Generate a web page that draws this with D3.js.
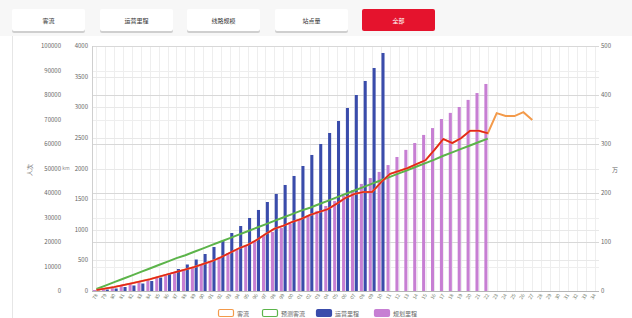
<!DOCTYPE html>
<html>
<head>
<meta charset="utf-8">
<script src="https://cdn.jsdelivr.net/npm/d3@7/dist/d3.min.js"></script>
<style>
  body { margin: 0; background: #fff; font-family: "Noto Sans CJK SC", "Noto Sans", sans-serif; }
</style>
</head>
<body>
<svg id="chart" width="632" height="318"></svg>
<script>
// categories: two digit years
var years = [];
for (var yy = 1978; yy <= 2034; yy++) years.push(String(yy).slice(2));

var buttons = ["客流", "运营里程", "线路规模", "站点量", "全部"];
var legendNames = ["客流", "预测客流", "运营里程", "规划里程"];

// blue bars (inner left axis, 0-4000)
var blueVals = [8, 25, 41, 65, 90, 122, 163, 220, 286, 359, 433, 514, 604, 718, 816, 947,
  1061, 1192, 1323, 1453, 1584, 1731, 1878, 2041, 2221, 2400, 2580, 2776, 2988, 3200, 3429, 3641, 3886];
// purple bars (outer left axis, 0-100000)
var purpleVals = [400, 800, 1400, 2000, 2900, 3700, 4500, 5300, 6300, 7300, 8600, 9800, 11000, 12200,
  13900, 15500, 17100, 18800, 20400, 22400, 24100, 25700, 27400, 29000, 30600, 32700, 34700, 36700,
  38800, 41200, 43700, 46100, 48600, 51400, 54700, 57600, 60400, 63700, 66500, 70200, 72700, 75100,
  78000, 80800, 84500];
// orange line (right axis, 0-500)
var orangeVals = [2, 5, 8, 12, 16, 20, 24, 29, 34, 39, 44, 49, 55, 61, 69, 78, 87, 94, 104, 116, 127,
  133, 141, 147, 155, 161, 167, 178, 190, 198, 202, 202, 222, 239, 245, 251, 259, 267, 288, 310, 302,
  312, 327, 327, 322, 363, 357, 357, 365, 349];
// green line (right axis)
var greenVals = [4, 11, 18, 25, 32, 39, 46, 53, 60, 67, 73, 80, 87, 94, 101, 108, 115, 122, 129, 136,
  143, 150, 157, 164, 170, 177, 184, 191, 198, 205, 212, 219, 226, 233, 240, 247, 254, 261, 268, 276,
  283, 290, 297, 304, 311];

var outerTicks = [0, 10000, 20000, 30000, 40000, 50000, 60000, 70000, 80000, 90000, 100000];
var innerTicks = [0, 500, 1000, 1500, 2000, 2500, 3000, 3500, 4000];
var rightTicks = [0, 100, 200, 300, 400, 500];

var svg = d3.select("#chart");
var plotTop = 46, plotBottom = 291, plotLeft = 92, plotRight = 599;

// top strip + buttons
svg.append("rect").attr("x", 0).attr("y", 0).attr("width", 632).attr("height", 36).attr("fill", "#f7f7f7");
svg.append("line").attr("x1", 12.5).attr("x2", 12.5).attr("y1", 36).attr("y2", 318).attr("stroke", "#e6e6e6");
var btnX = [12, 100, 187, 275, 362];
buttons.forEach(function (b, i) {
  var red = i === 4;
  var g = svg.append("g").attr("transform", "translate(" + btnX[i] + ",9)");
  if (!red) g.append("rect").attr("x", 0).attr("y", 2).attr("width", 73).attr("height", 22).attr("rx", 2).attr("fill", "#cfcfcf");
  g.append("rect").attr("width", 73).attr("height", 22).attr("rx", 2)
    .attr("fill", red ? "#e5132d" : "#fff");
  g.append("text").attr("x", 36.5).attr("y", 13.5).attr("text-anchor", "middle")
    .style("font-size", "6px").attr("fill", red ? "#fff" : "#333").text(b);
});

var x = d3.scaleBand().domain(years).range([plotLeft, plotRight]);
var sub = d3.scaleBand().domain(["p", "b"]).range([1, x.bandwidth() - 1]).paddingInner(0.2);
var yOuter = d3.scaleLinear().domain([0, 100000]).range([plotBottom, plotTop]);
var yInner = d3.scaleLinear().domain([0, 4000]).range([plotBottom, plotTop]);
var yRight = d3.scaleLinear().domain([0, 500]).range([plotBottom, plotTop]);

// grid
var grid = svg.append("g");
grid.selectAll(".vg").data(years).enter().append("line")
  .attr("x1", function (d) { return Math.round(x(d) + x.bandwidth() / 2) + 0.5; })
  .attr("x2", function (d) { return Math.round(x(d) + x.bandwidth() / 2) + 0.5; })
  .attr("y1", plotTop).attr("y2", plotBottom).attr("stroke", "#eeeeee");
grid.selectAll(".og").data(outerTicks).enter().append("line")
  .attr("x1", plotLeft).attr("x2", plotRight)
  .attr("y1", function (d) { return Math.round(yOuter(d)) + 0.5; })
  .attr("y2", function (d) { return Math.round(yOuter(d)) + 0.5; })
  .attr("stroke", "#eeeeee");
grid.selectAll(".ig").data(innerTicks).enter().append("line")
  .attr("x1", plotLeft).attr("x2", plotRight)
  .attr("y1", function (d) { return Math.round(yInner(d)) + 0.5; })
  .attr("y2", function (d) { return Math.round(yInner(d)) + 0.5; })
  .attr("stroke", "#e8e8e8");
grid.selectAll(".rg").data(rightTicks).enter().append("line")
  .attr("x1", plotLeft).attr("x2", plotRight)
  .attr("y1", function (d) { return Math.round(yRight(d)) + 0.5; })
  .attr("y2", function (d) { return Math.round(yRight(d)) + 0.5; })
  .attr("stroke", "#d8d8d8");

// bars
svg.append("g").selectAll("rect").data(purpleVals).enter().append("rect")
  .attr("x", function (d, i) { return x(years[i]) + sub("p"); })
  .attr("width", sub.bandwidth())
  .attr("y", function (d) { return yOuter(d); })
  .attr("height", function (d) { return plotBottom - yOuter(d); })
  .attr("fill", "#c77fd3");
svg.append("g").selectAll("rect").data(blueVals).enter().append("rect")
  .attr("x", function (d, i) { return x(years[i]) + sub("b"); })
  .attr("width", sub.bandwidth())
  .attr("y", function (d) { return yInner(d); })
  .attr("height", function (d) { return plotBottom - yInner(d); })
  .attr("fill", "#3a4cab");

// lines
var cx = function (d, i) { return x(years[i]) + x.bandwidth() / 2; };
var line = d3.line().x(cx).y(function (d) { return yRight(d); });
svg.append("path").datum(greenVals).attr("d", line)
  .attr("fill", "none").attr("stroke", "#5cb44a").attr("stroke-width", 2);
svg.append("path").datum(orangeVals).attr("d", line)
  .attr("fill", "none").attr("stroke", "#f39a4a").attr("stroke-width", 2);
// red where the purple series has values
svg.append("path").datum(orangeVals.slice(0, purpleVals.length)).attr("d", line)
  .attr("fill", "none").attr("stroke", "#e2231d").attr("stroke-width", 1.6);

// axes
svg.append("line").attr("x1", plotLeft).attr("x2", plotRight).attr("y1", plotBottom + 0.5).attr("y2", plotBottom + 0.5)
  .attr("stroke", "#b5b5b5");
svg.append("line").attr("x1", plotLeft + 0.5).attr("x2", plotLeft + 0.5).attr("y1", plotTop).attr("y2", plotBottom)
  .attr("stroke", "#cfcfcf");

var tickFont = "6px";
svg.append("g").selectAll("text").data(outerTicks).enter().append("text")
  .attr("x", 61).attr("y", function (d) { return yOuter(d) + 2; })
  .attr("text-anchor", "end").style("font-size", tickFont).attr("fill", "#666").text(function (d) { return d; });
svg.append("g").selectAll("text").data(innerTicks).enter().append("text")
  .attr("x", 88).attr("y", function (d) { return yInner(d) + 2; })
  .attr("text-anchor", "end").style("font-size", tickFont).attr("fill", "#666").text(function (d) { return d; });
svg.append("g").selectAll("text").data(rightTicks).enter().append("text")
  .attr("x", 601).attr("y", function (d) { return yRight(d) + 2; })
  .style("font-size", tickFont).attr("fill", "#666").text(function (d) { return d; });

svg.append("g").selectAll("text").data(years).enter().append("text")
  .attr("transform", function (d) {
    return "translate(" + (x(d) + x.bandwidth() / 2 + 1.5) + "," + (plotBottom + 4) + ") rotate(-60)";
  })
  .attr("text-anchor", "end").style("font-size", "5px").attr("fill", "#778070").text(function (d) { return d; });

// axis titles
svg.append("text").attr("transform", "translate(32,170) rotate(-90)").attr("text-anchor", "middle")
  .style("font-size", "6px").attr("fill", "#666").text("人次");
svg.append("text").attr("x", 66).attr("y", 170).attr("text-anchor", "middle")
  .style("font-size", "5px").attr("fill", "#888").text("km");
svg.append("text").attr("x", 615).attr("y", 172).attr("text-anchor", "middle")
  .style("font-size", "6px").attr("fill", "#666").text("万");

// legend
var legColors = ["#f39a4a", "#5cb44a", "#3a4cab", "#c77fd3"];
var legX = [218, 262, 316, 374];
legendNames.forEach(function (n, i) {
  var g = svg.append("g").attr("transform", "translate(" + legX[i] + ",309)");
  g.append("rect").attr("x", 0.5).attr("y", 0.5).attr("width", 15).attr("height", 7).attr("rx", 1.5)
    .attr("fill", i < 2 ? "#fff" : legColors[i]).attr("stroke", legColors[i]).attr("stroke-width", 1.2);
  g.append("text").attr("x", 19).attr("y", 6.5).style("font-size", "6px").attr("fill", "#666").text(n);
});
</script>
</body>
</html>
